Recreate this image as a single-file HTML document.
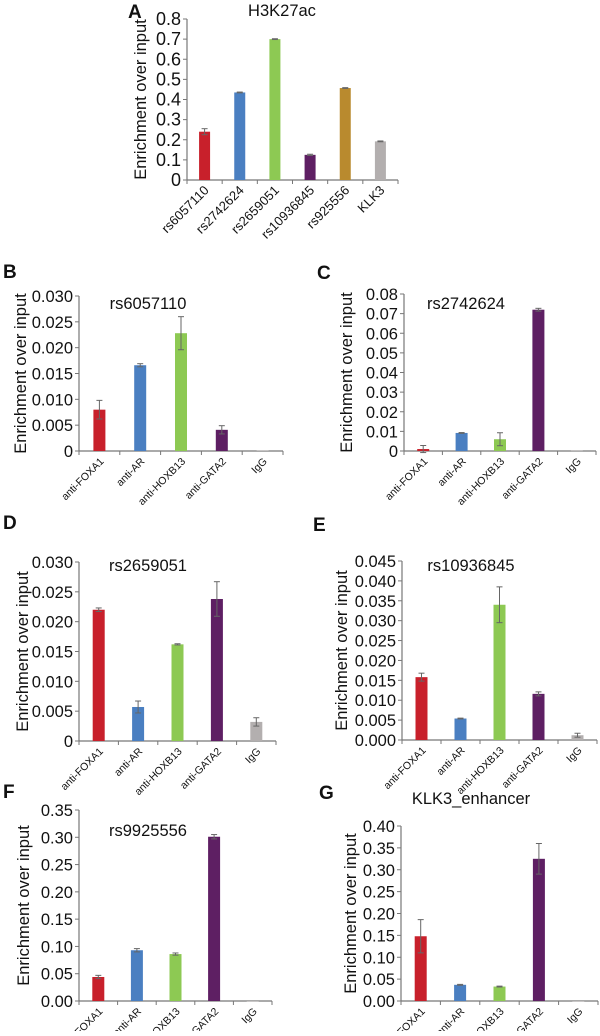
<!DOCTYPE html>
<html><head><meta charset="utf-8">
<style>
body{margin:0;background:#fff;}
svg text{font-family:"Liberation Sans",Arial,sans-serif;fill:#111;}
</style></head>
<body>
<svg id="fig" width="600" height="1031" viewBox="0 0 600 1031" xmlns="http://www.w3.org/2000/svg"></svg>
<script>
const catsA=["rs6057110","rs2742624","rs2659051","rs10936845","rs925556","KLK3"];
const valsA=[0.24,0.435,0.70,0.125,0.457,0.192];
const errA=[0.015,0.002,0.002,0.003,0.002,0.002];
const colsA=["#c8202b","#4a7fc1","#8dc953","#5e1f63","#b98a2e","#b3afaf"];
const ticksA=["0","0.1","0.2","0.3","0.4","0.5","0.6","0.7","0.8"];

const catsAb=["anti-FOXA1","anti-AR","anti-HOXB13","anti-GATA2","IgG"];
const catsG=["Anti-FOXA1","anti-AR","anti-HOXB13","anti-GATA2","IgG"];
const colsAb=["#c8202b","#4a7fc1","#8dc953","#5e1f63","#b3afaf"];

const valsB=[0.008,0.0166,0.0228,0.0041,0.0001];
const errB=[0.0018,0.0003,0.0032,0.0008,0];
const ticksB=["0","0.005","0.010","0.015","0.020","0.025","0.030"];

const valsC=[0.001,0.0092,0.006,0.072,0.0002];
const errC=[0.0018,0.0002,0.0033,0.0007,0];
const ticksC=["0","0.01","0.02","0.03","0.04","0.05","0.06","0.07","0.08"];

const valsD=[0.022,0.0057,0.0162,0.0238,0.0032];
const errD=[0.0003,0.001,0.0001,0.0029,0.0007];
const ticksD=["0","0.005","0.010","0.015","0.020","0.025","0.030"];

const valsE=[0.0158,0.0054,0.034,0.0116,0.0012];
const errE=[0.001,0.0001,0.0045,0.0005,0.0005];
const ticksE=["0.000","0.005","0.010","0.015","0.020","0.025","0.030","0.035","0.040","0.045"];

const valsF=[0.044,0.093,0.086,0.301,0];
const errF=[0.003,0.003,0.002,0.004,0];
const ticksF=["0.00","0.05","0.10","0.15","0.20","0.25","0.30","0.35"];

const valsG=[0.148,0.037,0.033,0.325,0];
const errG=[0.038,0.001,0.001,0.035,0];
const ticksG=["0.00","0.05","0.10","0.15","0.20","0.25","0.30","0.35","0.40"];

const NS="http://www.w3.org/2000/svg";
const svg=document.getElementById('fig');
function mk(tag,attrs,parent){const e=document.createElementNS(NS,tag);for(const k in attrs)e.setAttribute(k,attrs[k]);(parent||svg).appendChild(e);return e;}

function panel(id,letter,lx,ly,title,tx,ty,ax,top,y0,xend,cats,vals,errs,cols,ticks,bw,tfs,cfs,ytx){
  const g=mk('g',{});
  
  
  const L=mk('text',{x:lx,y:ly,'font-size':19,'font-weight':'bold'},g);L.textContent=letter;
  
  
  const T=mk('text',{x:tx,y:ty,'font-size':16.5,'text-anchor':'middle'},g);T.textContent=title;
  
  
  const maxV=parseFloat(ticks[ticks.length-1]);
  const ys=v=>y0-(v/maxV)*(y0-top);
  const n=cats.length, step=(xend-ax)/n;
  const xs=i=>ax+step*(i+0.5);
  mk('line',{x1:ax,y1:top,x2:ax,y2:y0,stroke:'#777','stroke-width':1.2},g);
  mk('line',{x1:ax,y1:y0,x2:xend,y2:y0,stroke:'#777','stroke-width':1.2},g);
  ticks.forEach((t,i)=>{
    const v=parseFloat(t), y=ys(v);
    mk('line',{x1:ax-4,y1:y,x2:ax,y2:y,stroke:'#777'},g);
    const tt=mk('text',{x:ax-6,y:y+6,'font-size':tfs,'text-anchor':'end'},g);tt.textContent=t;
    
    
  });
  for(let i=0;i<=n;i++){const x=ax+step*i;mk('line',{x1:x,y1:y0,x2:x,y2:y0+4,stroke:'#777'},g);}
  const yl=mk('text',{transform:`translate(${ytx},${(top+y0)/2}) rotate(-90)`,'font-size':16.5,'text-anchor':'middle'},g);
  yl.textContent='Enrichment over input';
  
  
  cats.forEach((c,i)=>{
    const x=xs(i), y=ys(vals[i]);
    const r=mk('rect',{x:x-bw/2,y:y,width:bw,height:Math.max(y0-y,0.5),fill:cols[i]},g);
    
    
    if(errs[i]>0){
      const y1=ys(vals[i]+errs[i]), y2=ys(vals[i]-errs[i]);
      mk('line',{x1:x,y1:y1,x2:x,y2:y2,stroke:'#666','stroke-width':1},g);
      mk('line',{x1:x-3,y1:y1,x2:x+3,y2:y1,stroke:'#666','stroke-width':1},g);
      mk('line',{x1:x-3,y1:y2,x2:x+3,y2:y2,stroke:'#666','stroke-width':1},g);
    }
    const cl=mk('text',{transform:`translate(${x+5},${y0+11}) rotate(-45)`,'font-size':cfs,'text-anchor':'end'},g);
    cl.textContent=c;
    
    
  });
}
panel('A','A',128,18,'H3K27ac',282,16,187,19,180,398,catsA,valsA,errA,colsA,ticksA,11,18,13,146);
panel('B','B',3,278,'rs6057110',148,309,79,296,451,283,catsAb,valsB,errB,colsAb,ticksB,12,16.5,10.5,26);
panel('C','C',317,279,'rs2742624',466,309,404,294,451,596,catsAb,valsC,errC,colsAb,ticksC,12,16.5,10.5,352);
panel('D','D',3,529,'rs2659051',148,571,79,562,741,276,catsAb,valsD,errD,colsAb,ticksD,12,16.5,10.5,28);
panel('E','E',313,531,'rs10936845',471,571,402,561,740,597,catsAb,valsE,errE,colsAb,ticksE,12,16.5,10.5,347);
panel('F','F',3,798,'rs9925556',148,836,79,810,1001,272,catsAb,valsF,errF,colsAb,ticksF,12,16.5,10.5,29);
panel('G','G',319,799,'KLK3_enhancer',471,804,401,826,1001,598,catsG,valsG,errG,colsAb,ticksG,12,16.5,10.5,356);
</script>
</body></html>
